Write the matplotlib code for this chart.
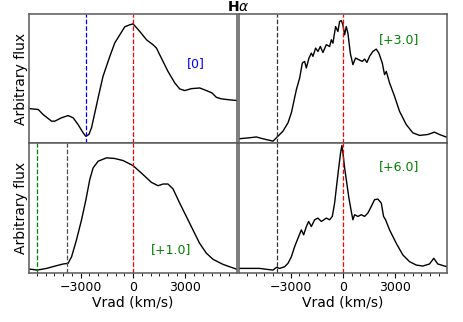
import numpy as np
import matplotlib
matplotlib.use("Agg")
import matplotlib.pyplot as plt

# phase 0 (top left)
v_p0 = [-5950, -5430, -5150, -4670, -4480, -4100, -3720, -3430, -3150, -2860,
        -2710, -2530, -2380, -2190, -1960, -1720, -1330, -1050, -760, -475,
        -200, 0, 380, 770, 1140, 1340, 1620, 2000, 2390, 2670,
        2960, 3340, 3820, 4200, 4520, 4770, 5060, 5430, 5950]
f_p0 = [0.269, 0.262, 0.223, 0.172, 0.172, 0.198, 0.215, 0.198, 0.146, 0.082,
        0.056, 0.069, 0.121, 0.236, 0.377, 0.518, 0.672, 0.775, 0.838, 0.90,
        0.915, 0.923, 0.865, 0.80, 0.762, 0.736, 0.659, 0.556, 0.467, 0.421,
        0.408, 0.423, 0.428, 0.408, 0.39, 0.356, 0.344, 0.338, 0.331]

# phase +1.0 (bottom left)
v_p1 = [-5950, -5490, -4950, -4380, -4000, -3720, -3520, -3240, -2950, -2700,
        -2480, -2290, -2000, -1520, -1050, -570, 0, 570, 1050, 1430,
        1720, 2000, 2290, 2670, 3050, 3430, 3810, 4200, 4580, 5150, 5950]
f_p1 = [0.031, 0.023, 0.036, 0.057, 0.07, 0.075, 0.126, 0.256, 0.411, 0.566,
        0.721, 0.811, 0.863, 0.889, 0.884, 0.868, 0.829, 0.76, 0.70, 0.674,
        0.687, 0.687, 0.649, 0.54, 0.437, 0.333, 0.23, 0.153, 0.106, 0.067, 0.029]

# phase +3.0 (top right)
v_p3 = [-5966, -5336, -4954, -4576, -4004, -3718, -3432, -3146, -2952, -2666,
        -2477, -2323, -2191, -2094, -1945, -1808, -1716, -1562, -1430, -1293,
        -1144, -950, -761, -664, -572, -418, -286, -189, -92, 0,
        97, 194, 286, 423, 572, 726, 915, 1110, 1241, 1373,
        1527, 1716, 1910, 2059, 2254, 2385, 2483, 2672, 2957, 3243,
        3626, 4004, 4387, 4862, 5245, 5531, 5949]
f_p3 = [0.036, 0.044, 0.05, 0.036, 0.018, 0.056, 0.095, 0.159, 0.236, 0.415,
        0.505, 0.621, 0.633, 0.582, 0.659, 0.697, 0.672, 0.736, 0.71, 0.748,
        0.702, 0.762, 0.748, 0.80, 0.774, 0.902, 0.864, 0.941, 0.948, 0.915,
        0.838, 0.902, 0.851, 0.697, 0.608, 0.659, 0.646, 0.633, 0.651, 0.625,
        0.672, 0.71, 0.728, 0.697, 0.621, 0.531, 0.556, 0.467, 0.364, 0.248,
        0.146, 0.082, 0.062, 0.069, 0.087, 0.069, 0.048]

# phase +6.0 (bottom right)
v_p6 = [-5966, -5336, -4764, -4381, -4004, -3809, -3621, -3335, -3146, -2952,
        -2763, -2574, -2380, -2248, -2094, -1962, -1808, -1619, -1430, -1236,
        -950, -761, -606, -475, -343, -229, -132, -57, 23, 97,
        194, 343, 481, 572, 669, 858, 1053, 1241, 1430, 1625,
        1813, 2002, 2197, 2328, 2443, 2672, 3054, 3432, 3815, 4198,
        4576, 4959, 5205, 5434, 5949]
f_p6 = [0.036, 0.036, 0.036, 0.029, 0.023, 0.044, 0.036, 0.049, 0.075, 0.126,
        0.204, 0.269, 0.333, 0.295, 0.359, 0.398, 0.359, 0.411, 0.424, 0.398,
        0.424, 0.411, 0.437, 0.54, 0.695, 0.824, 0.928, 0.985, 0.902, 0.811,
        0.721, 0.579, 0.475, 0.411, 0.45, 0.437, 0.45, 0.437, 0.463, 0.514,
        0.566, 0.571, 0.54, 0.437, 0.411, 0.333, 0.23, 0.14, 0.088, 0.062,
        0.054, 0.07, 0.114, 0.07, 0.049]

# (velocity, colour) of the dashed markers in each panel
marks_p0 = [(-2700, "blue"), (0, "red")]
marks_p1 = [(-5500, "green"), (-3800, "0.3"), (0, "red")]
marks_p3 = [(-3800, "0.2"), (0, "red")]
marks_p6 = [(-3800, "0.2"), (0, "red")]

fig, axes = plt.subplots(2, 2, figsize=(4.63, 3.22), dpi=100, sharex=True, sharey=True)
fig.subplots_adjust(left=0.063, right=0.965, top=0.957, bottom=0.152,
                    wspace=0.01, hspace=0.0)

panels = [
    (axes[0, 0], v_p0, f_p0, marks_p0, "[0]", "blue", 0.80, 0.615),
    (axes[0, 1], v_p3, f_p3, marks_p3, "[+3.0]", "green", 0.768, 0.805),
    (axes[1, 0], v_p1, f_p1, marks_p1, "[+1.0]", "green", 0.683, 0.178),
    (axes[1, 1], v_p6, f_p6, marks_p6, "[+6.0]", "green", 0.768, 0.82),
]

for ax, v, f, marks, lab, col, tx, ty in panels:
    ax.plot(v, f, color="k", lw=1.0)
    for xv, c in marks:
        ax.axvline(xv, color=c, ls="--", lw=0.9)
    ax.text(tx, ty, lab, color=col, fontsize=9, ha="center", va="center",
            transform=ax.transAxes)
    ax.set_yticks([])
    for sp in ax.spines.values():
        sp.set_color("0.35")
        sp.set_linewidth(1.1)

ax0 = axes[0, 0]
ax0.set_xlim(-5950, 5950)
ax0.set_ylim(0, 1)
ax0.set_xticks([-3000, 0, 3000])
ax0.set_xticks(np.arange(-5500, 6000, 500), minor=True)

for ax in axes[1]:
    ax.set_xlabel("Vrad (km/s)", fontsize=10, labelpad=1)
    ax.tick_params(axis="x", labelsize=9, pad=2)
for ax in axes[:, 0]:
    ax.set_ylabel("Arbitrary flux", fontsize=10, labelpad=1)

fig.text(0.514, 0.978, r"H$\alpha$", fontsize=10, fontweight="bold",
         ha="center", va="center")

fig.savefig("out.png", dpi=100)
